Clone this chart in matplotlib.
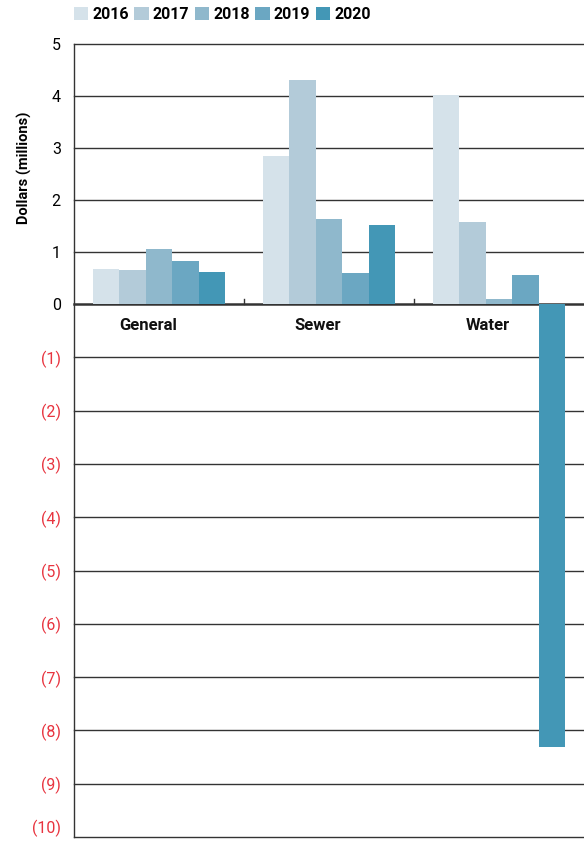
import numpy as np
import matplotlib
matplotlib.use("Agg")
import matplotlib.pyplot as plt
from matplotlib.patches import Patch

plt.rcParams['font.family'] = ['Roboto', 'DejaVu Sans']

# funds and yearly values, $ millions
funds = ['General', 'Sewer', 'Water']
years = ['2016', '2017', '2018', '2019', '2020']
v2016 = [0.68, 2.85, 4.02]
v2017 = [0.65, 4.31, 1.57]
v2018 = [1.05, 1.63, 0.10]
v2019 = [0.82, 0.59, 0.56]
v2020 = [0.62, 1.52, -8.31]
colors = ['#d5e2ea', '#b3cbd9', '#8fb8cc', '#6ba7c2', '#4397b6']

series = [v2016, v2017, v2018, v2019, v2020]

# positive part is drawn a bit tighter than the negative part
def fwd(y):
    y = np.asarray(y, dtype=float)
    return np.where(y >= 0, y * 52.0, y * 53.3)

def inv(y):
    y = np.asarray(y, dtype=float)
    return np.where(y >= 0, y / 52.0, y / 53.3)

fig = plt.figure(figsize=(5.84, 8.43), dpi=100)
ax = fig.add_axes([74 / 584, 6 / 843, 510 / 584, 793 / 843])
ax.set_yscale('function', functions=(fwd, inv))
ax.set_ylim(-10, 5)
ax.set_xlim(-0.5, 2.5)

# horizontal rules behind the bars
for g in range(-10, 6):
    ax.axhline(g, color='#333333', lw=1.0 if g != 0 else 1.8, zorder=1,
               clip_on=False)

x = np.arange(len(funds))
w = 0.155
for i, (vals, c) in enumerate(zip(series, colors)):
    ax.bar(x + (i - 2) * w, vals, width=w, color=c, linewidth=0, zorder=2)

for s in ['top', 'right', 'bottom']:
    ax.spines[s].set_visible(False)
ax.spines['left'].set_color('#333333')
ax.spines['left'].set_linewidth(1.0)

yt = list(range(-10, 6))
ax.set_yticks(yt)
ax.set_yticklabels([str(t) if t >= 0 else '(%d)' % -t for t in yt])
ax.tick_params(axis='y', length=0, pad=9.5, labelsize=11.5)
for lbl, t in zip(ax.get_yticklabels(), yt):
    if t < 0:
        lbl.set_color('#e8343f')
    if t == -10:
        lbl.set_verticalalignment('bottom')

# small divider ticks between funds, pointing up from zero
ax.set_xticks([])
for b in [0.5, 1.5]:
    ax.plot([b, b], [0, 0.1], color='#333333', lw=1.0, zorder=3)

for xi, name in zip(x, funds):
    ax.text(xi - 0.065, -0.4, name, ha='center', va='center', fontsize=12,
            fontweight='bold', color='#111111')

fig.text(24 / 584, 1 - 168 / 843, 'Dollars (millions)', rotation=90,
         ha='center', va='center', fontsize=10.5, fontweight='bold')

handles = [Patch(facecolor=c, edgecolor='none') for c in colors]
fig.legend(handles, years, loc='upper left', bbox_to_anchor=(74 / 584, 1 - 7 / 843),
           ncol=5, frameon=False, handlelength=0.9, handleheight=0.9,
           handletextpad=0.25, columnspacing=0.35, borderaxespad=0, borderpad=0,
           prop={'size': 11.5, 'weight': 'bold'})

fig.savefig('out.png', dpi=100)
